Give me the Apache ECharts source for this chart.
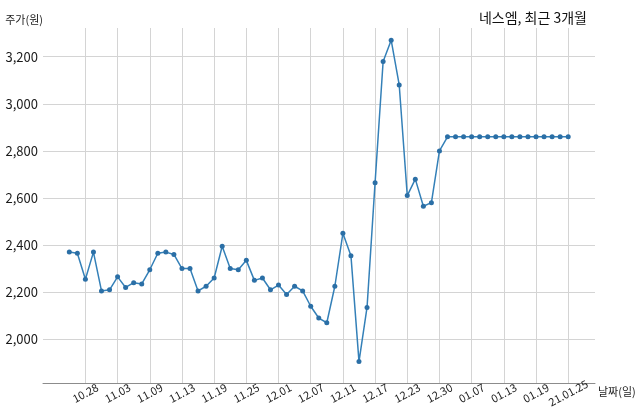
<!DOCTYPE html>
<html><head><meta charset="utf-8">
<script src="https://cdn.jsdelivr.net/npm/echarts@6/dist/echarts.min.js"></script>
<style>html,body{margin:0;padding:0;background:#fff}#c{width:640px;height:419px}</style>
</head><body><div id="c"></div>
<script>
const dates = ['10.26','10.27','10.28','10.29','10.30','11.02','11.03','11.04','11.05','11.06',
  '11.09','11.10','11.11','11.12','11.13','11.16','11.17','11.18','11.19','11.20',
  '11.23','11.24','11.25','11.26','11.27','11.30','12.01','12.02','12.03','12.04',
  '12.07','12.08','12.09','12.10','12.11','12.14','12.15','12.16','12.17','12.18',
  '12.21','12.22','12.23','12.24','12.28','12.29','12.30','01.04','01.05','01.06',
  '01.07','01.08','01.11','01.12','01.13','01.14','01.15','01.18','01.19','01.20',
  '01.21','01.22','21.01.25'];
const prices = [2370,2365,2255,2370,2205,2210,2265,2220,2240,2235,
  2295,2365,2370,2360,2300,2300,2205,2225,2260,2395,
  2300,2295,2335,2250,2260,2210,2230,2190,2225,2205,
  2140,2090,2070,2225,2450,2355,1905,2135,2665,3180,
  3270,3080,2610,2680,2565,2580,2800,2860,2860,2860,
  2860,2860,2860,2860,2860,2860,2860,2860,2860,2860,
  2860,2860,2860];
const yTicks = [2000,2200,2400,2600,2800,3000,3200];
const yMin = 1814, yMax = 3322;
const labelStart = 2, labelStep = 4;

const FONT = '"Noto Sans CJK KR", "Noto Sans", sans-serif';
const showTick = (i) => i >= labelStart && (i - labelStart) % labelStep === 0;

const chart = echarts.init(document.getElementById('c'));
chart.setOption({
  animation: false,
  backgroundColor: '#fff',
  title: {
    text: '네스엠, 최근 3개월', right: 48, top: 6,
    textStyle: {fontFamily: FONT, fontSize: 14, fontWeight: 'normal', color: '#111'}
  },
  grid: [
    {left: 43, right: 45, top: 28, bottom: 36},
    {left: 69.3, right: 71.8, top: 28, bottom: 36}
  ],
  xAxis: [
    {
      type: 'value', gridIndex: 0, min: 0, max: 1,
      axisLine: {show: true, lineStyle: {color: '#8c8c8c', width: 1}},
      axisTick: {show: false}, axisLabel: {show: false}, splitLine: {show: false},
      name: '날짜(일)', nameLocation: 'end', nameGap: 3,
      nameTextStyle: {fontFamily: FONT, fontSize: 11, color: '#222', verticalAlign: 'top', padding: [3, 0, 0, 0]}
    },
    {
      type: 'category', gridIndex: 1, data: dates, boundaryGap: false,
      axisLine: {show: false}, axisTick: {show: false},
      axisLabel: {
        interval: (i) => showTick(i), rotate: 28, align: 'center', verticalAlign: 'middle',
        margin: 10, fontFamily: FONT, fontSize: 11, color: '#222'
      },
      splitLine: {show: true, interval: (i) => showTick(i), lineStyle: {color: '#d4d4d4', width: 1}}
    }
  ],
  yAxis: [
    {
      type: 'value', gridIndex: 0, min: yMin, max: yMax,
      axisLine: {show: false},
      axisTick: {show: false, customValues: yTicks},
      axisLabel: {
        customValues: yTicks, margin: 5, fontFamily: FONT, fontSize: 13, color: '#1a1a1a',
        formatter: (v) => v.toLocaleString('en-US')
      },
      splitLine: {show: true, lineStyle: {color: '#d4d4d4', width: 1}},
      name: '주가(원)', nameLocation: 'end', nameGap: 8,
      nameTextStyle: {fontFamily: FONT, fontSize: 11, color: '#222', align: 'right', verticalAlign: 'middle'}
    },
    {type: 'value', gridIndex: 1, min: yMin, max: yMax, show: false}
  ],
  series: [{
    type: 'line', xAxisIndex: 1, yAxisIndex: 1, data: prices,
    symbol: 'circle', symbolSize: 5, showSymbol: true,
    lineStyle: {color: '#3480b8', width: 1.5},
    itemStyle: {color: '#2b6fa6'},
    emphasis: {disabled: true}
  }]
});
</script>
</body></html>
